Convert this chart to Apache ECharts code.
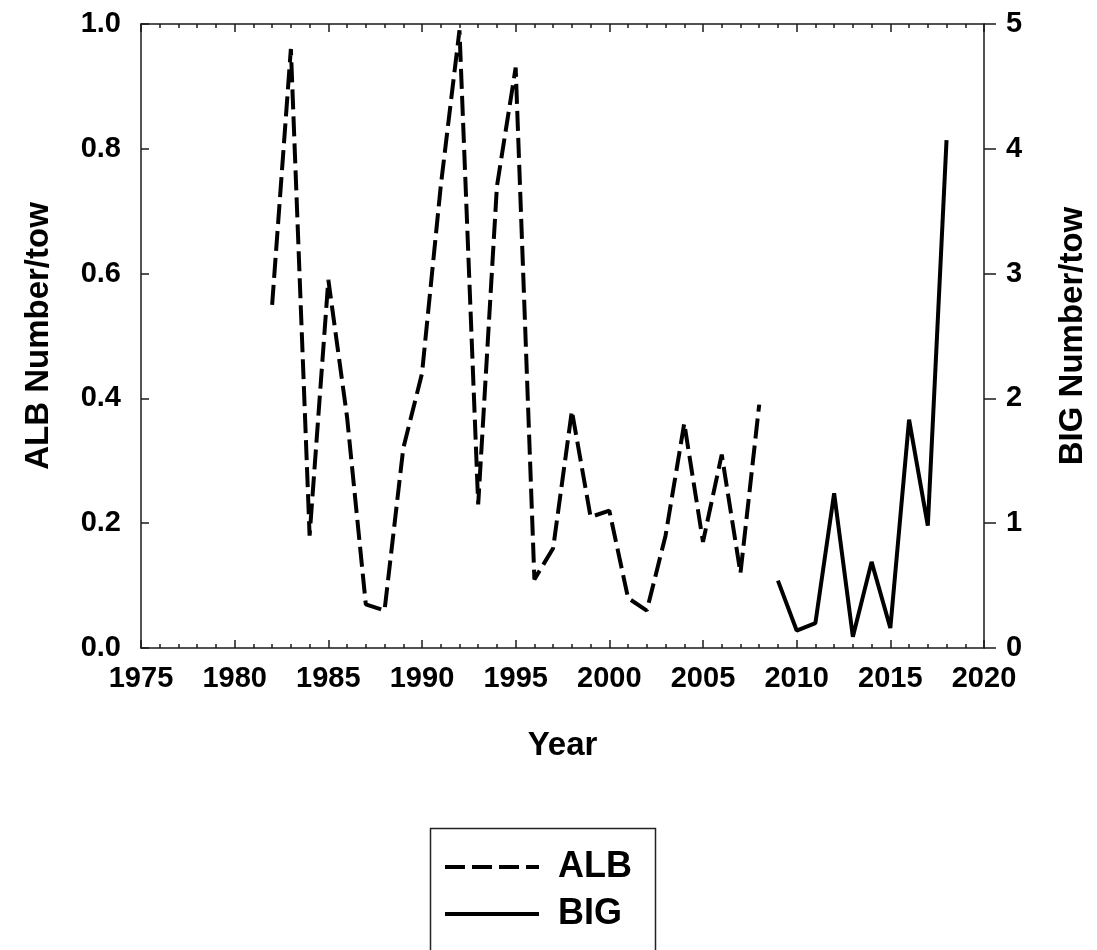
<!DOCTYPE html>
<html>
<head>
<meta charset="utf-8">
<script src="https://cdn.jsdelivr.net/npm/echarts@6/dist/echarts.min.js"></script>
<style>
html,body{margin:0;padding:0;background:#fff;}
#chart{width:1097px;height:950px;}
</style>
</head>
<body>
<div id="chart"></div>
<script>
const albYears = [1982,1983,1984,1985,1986,1987,1988,1989,1990,1991,1992,1993,1994,1995,1996,1997,1998,1999,2000,2001,2002,2003,2004,2005,2006,2007,2008];
const albValues = [0.55,0.96,0.18,0.59,0.37,0.07,0.06,0.32,0.44,0.74,0.99,0.23,0.74,0.93,0.11,0.16,0.38,0.21,0.22,0.08,0.06,0.18,0.36,0.17,0.31,0.12,0.39];
const bigYears = [2009,2010,2011,2012,2013,2014,2015,2016,2017,2018];
const bigValues = [0.54,0.14,0.2,1.24,0.09,0.69,0.16,1.83,0.98,4.07];
const seriesNames = ['ALB','BIG'];
const xTitle = 'Year';
const yLeftTitle = 'ALB Number/tow';
const yRightTitle = 'BIG Number/tow';

const FONT = '"Liberation Sans", Arial, sans-serif';
const INK = '#000';
const AX = '#1a1a1a';

const chart = echarts.init(document.getElementById('chart'), null, {renderer:'canvas'});

const xBase = {
  type:'value', min:1975, max:2020, interval:5,
  axisLine:{show:true, onZero:false, lineStyle:{color:AX, width:1.5}},
  axisTick:{show:true, inside:true, length:8, lineStyle:{color:AX, width:1.5}},
  minorTick:{show:true, splitNumber:5, length:4, lineStyle:{color:AX, width:1.5}},
  splitLine:{show:false}
};

const option = {
  backgroundColor:'#fff',
  animation:false,
  grid:{left:141, right:112, top:24, bottom:302, containLabel:false},
  graphic:[{
    type:'rect', left:428, top:826, silent:true, z:0,
    shape:{width:225, height:200},
    style:{fill:'none', stroke:'#222', lineWidth:1.5}
  }],
  legend:{
    data:seriesNames,
    orient:'vertical',
    left:428, top:826,
    padding:[21,20,2,15],
    itemWidth:94, itemHeight:16, itemGap:7,
    itemStyle:{color:'rgba(0,0,0,0)', borderColor:'rgba(0,0,0,0)', borderWidth:0},
    lineStyle:{width:4},
    textStyle:{fontFamily:FONT, fontWeight:'bold', fontSize:36, color:INK, lineHeight:40, padding:[0,0,0,14]}
  },
  xAxis:[
    Object.assign({}, xBase, {
      position:'bottom',
      name:xTitle, nameLocation:'middle', nameGap:81,
      nameTextStyle:{fontFamily:FONT, fontWeight:'bold', fontSize:33, color:INK},
      axisLabel:{show:true, margin:16, fontFamily:FONT, fontWeight:'bold', fontSize:29, color:INK,
        formatter:function(v){return String(v);}}
    }),
    Object.assign({}, xBase, {
      position:'top',
      axisLabel:{show:false}
    })
  ],
  yAxis:[
    {
      type:'value', position:'left', min:0, max:1, interval:0.2,
      name:yLeftTitle, nameLocation:'middle', nameRotate:90, nameGap:86,
      nameTextStyle:{fontFamily:FONT, fontWeight:'bold', fontSize:33, color:INK},
      axisLine:{show:true, onZero:false, lineStyle:{color:AX, width:1.5}},
      axisTick:{show:true, inside:true, length:8, lineStyle:{color:AX, width:1.5}},
      splitLine:{show:false},
      axisLabel:{margin:20, fontFamily:FONT, fontWeight:'bold', fontSize:29, color:INK,
        formatter:function(v){return v.toFixed(1);}}
    },
    {
      type:'value', position:'right', min:0, max:5, interval:1,
      name:yRightTitle, nameLocation:'middle', nameRotate:90, nameGap:72,
      nameTextStyle:{fontFamily:FONT, fontWeight:'bold', fontSize:33, color:INK},
      axisLine:{show:true, onZero:false, lineStyle:{color:AX, width:1.5}},
      axisTick:{show:true, inside:false, length:12, lineStyle:{color:AX, width:1.5}},
      splitLine:{show:false},
      axisLabel:{margin:22, fontFamily:FONT, fontWeight:'bold', fontSize:29, color:INK}
    }
  ],
  series:[
    {
      name:seriesNames[0], type:'line', xAxisIndex:0, yAxisIndex:0,
      data:albYears.map(function(y,i){return [y, albValues[i]];}),
      symbol:'none', showSymbol:false,
      lineStyle:{color:INK, width:4, type:[20,7]},
      itemStyle:{color:INK}
    },
    {
      name:seriesNames[1], type:'line', xAxisIndex:0, yAxisIndex:1,
      data:bigYears.map(function(y,i){return [y, bigValues[i]];}),
      symbol:'none', showSymbol:false,
      lineStyle:{color:INK, width:4, type:'solid'},
      itemStyle:{color:INK}
    }
  ]
};
chart.setOption(option);
</script>
</body>
</html>
